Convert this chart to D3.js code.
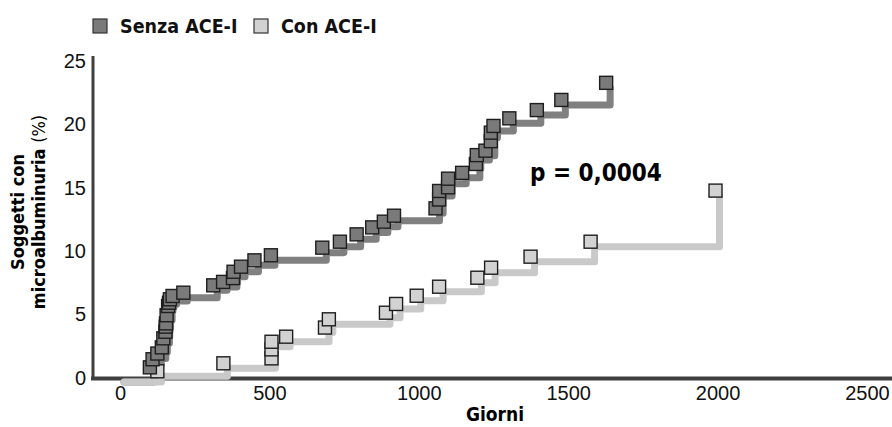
<!DOCTYPE html>
<html lang="it">
    <head>
        <meta charset="utf-8">
        <title>Soggetti con microalbuminuria</title>
        <script type="text/javascript" src="https://d3js.org/d3.v7.min.js"></script>
        <style type="text/css">
          body {
            margin: 0;
            background: #ffffff;
          }
          svg {
            display: block;
            font-family: 'DejaVu Sans Condensed', 'DejaVu Sans', sans-serif;
          }
          .tick text {
            font-size: 20px;
            fill: #111;
          }
        </style>
    </head>
    <body>
        <script type="text/javascript">

        // giorni / percentuale cumulativa, gruppo senza ACE-I
        const senzaGiorni = [0, 100, 109, 125, 140, 145, 152, 153, 154, 156, 161, 164, 167, 176, 212, 312, 345, 378, 380, 405, 450, 505,
                             677, 736, 792, 844, 883, 917, 1056, 1068, 1068, 1098, 1098, 1145, 1191, 1194, 1223, 1241, 1241, 1250,
                             1303, 1395, 1477, 1627];
        const senzaPerc = [0, 0.76, 1.4, 1.85, 2.34, 3.05, 3.57, 3.97, 4.23, 4.87, 5.6, 5.86, 6.13, 6.39, 6.65, 7.23, 7.5, 7.8, 8.3, 8.7, 9.2, 9.6,
                           10.2, 10.67, 11.25, 11.8, 12.25, 12.72, 13.3, 14.0, 14.67, 14.96, 15.64, 16.1, 16.8, 17.5, 17.85, 18.6, 19.27, 19.8,
                           20.4, 21.05, 21.85, 23.2];

        // gruppo con ACE-I
        const conGiorni = [0, 125, 346, 507, 507, 507, 556, 686, 699, 890, 924, 993, 1068, 1196, 1242, 1374, 1575, 1993];
        const conPerc = [0, 0.45, 1.08, 1.47, 2.18, 2.78, 3.18, 3.9, 4.55, 5.07, 5.76, 6.41, 7.12, 7.83, 8.62, 9.49, 10.67, 14.7];

        const xTicks = [0, 500, 1000, 1500, 2000, 2500];
        const yTicks = [0, 5, 10, 15, 20, 25];

        const w = 892;
        const h = 427;

        const senza = senzaGiorni.map((d, i) => ({g: d, p: senzaPerc[i]}));
        const con = conGiorni.map((d, i) => ({g: d, p: conPerc[i]}));

        const x = d3.scaleLinear().domain([0, 2500]).range([120, 867]);
        const y = d3.scaleLinear().domain([0, 25]).range([377, 60]);

        const svg = d3.select("body").append("svg")
                      .attr("width", w)
                      .attr("height", h);

        //axes
        const xAxis = svg.append("g")
                         .attr("transform", "translate(0,378)")
                         .call(d3.axisBottom(x).tickValues(xTicks).tickFormat(d3.format("d")).tickSize(0).tickPadding(8));
        xAxis.select(".domain").remove();

        const yAxis = svg.append("g")
                         .attr("transform", "translate(93,0)")
                         .call(d3.axisLeft(y).tickValues(yTicks).tickFormat(d3.format("d")).tickSize(0).tickPadding(7));
        yAxis.select(".domain").remove();
        yAxis.selectAll(".tick text").attr("dy", "0.36em");

        svg.append("line")
           .attr("x1", 93).attr("x2", 93)
           .attr("y1", 56).attr("y2", 380)
           .attr("stroke", "#404040")
           .attr("stroke-width", 3);
        svg.append("line")
           .attr("x1", 91).attr("x2", 892)
           .attr("y1", 378.5).attr("y2", 378.5)
           .attr("stroke", "#404040")
           .attr("stroke-width", 4);

        //step lines, offset like a shadow under the markers
        const step = d3.line()
                       .x(d => x(d.g))
                       .y(d => y(d.p))
                       .curve(d3.curveStepAfter);

        const series = [
            {data: senza, line: "#808080", fill: "#7a7a7a"},
            {data: con, line: "#c9c9c9", fill: "#d2d2d2"}
        ];

        series.forEach(s => {
            svg.append("path")
               .datum(s.data)
               .attr("d", step)
               .attr("transform", "translate(4,5)")
               .attr("fill", "none")
               .attr("stroke", s.line)
               .attr("stroke-width", 7)
               .attr("stroke-linejoin", "round")
               .attr("stroke-linecap", "round");
        });

        // markers: light group under, dark group on top
        [series[1], series[0]].forEach(s => {
            svg.append("g")
               .selectAll("rect")
               .data(s.data.slice(1))
               .enter()
               .append("rect")
               .attr("x", d => x(d.g) - 6.5)
               .attr("y", d => y(d.p) - 6.5)
               .attr("width", 13)
               .attr("height", 13)
               .attr("fill", s.fill)
               .attr("stroke", "#1e1e1e")
               .attr("stroke-width", 1.4);
        });

        //legend
        const legend = [
            {label: "Senza ACE-I", fill: "#7a7a7a", x: 93},
            {label: "Con ACE-I", fill: "#d2d2d2", x: 254}
        ];
        const lg = svg.append("g");
        lg.selectAll("rect")
          .data(legend)
          .enter()
          .append("rect")
          .attr("x", d => d.x)
          .attr("y", 19)
          .attr("width", 14)
          .attr("height", 14)
          .attr("fill", d => d.fill)
          .attr("stroke", "#333")
          .attr("stroke-width", 1.2);
        lg.selectAll("text")
          .data(legend)
          .enter()
          .append("text")
          .attr("x", d => d.x + 27)
          .attr("y", 33)
          .attr("font-size", 19.5)
          .attr("font-weight", "bold")
          .attr("fill", "#111")
          .text(d => d.label);

        //titles
        svg.append("text")
           .attr("x", 495)
           .attr("y", 421)
           .attr("text-anchor", "middle")
           .attr("font-size", 19)
           .attr("font-weight", "bold")
           .text("Giorni");

        const ylab = svg.append("text")
                        .attr("transform", "translate(0,212) rotate(-90)")
                        .attr("text-anchor", "middle")
                        .attr("font-size", 18)
                        .attr("font-weight", "bold");
        ylab.append("tspan")
            .attr("x", 0)
            .attr("y", 24)
            .text("Soggetti con");
        ylab.append("tspan")
            .attr("x", 0)
            .attr("y", 45)
            .text("microalbuminuria ");
        ylab.append("tspan")
            .attr("font-weight", "normal")
            .text("(%)");

        svg.append("text")
           .attr("x", 530)
           .attr("y", 181)
           .attr("font-size", 24)
           .attr("font-weight", "bold")
           .text("p = 0,0004");

        </script>
    </body>
</html>
